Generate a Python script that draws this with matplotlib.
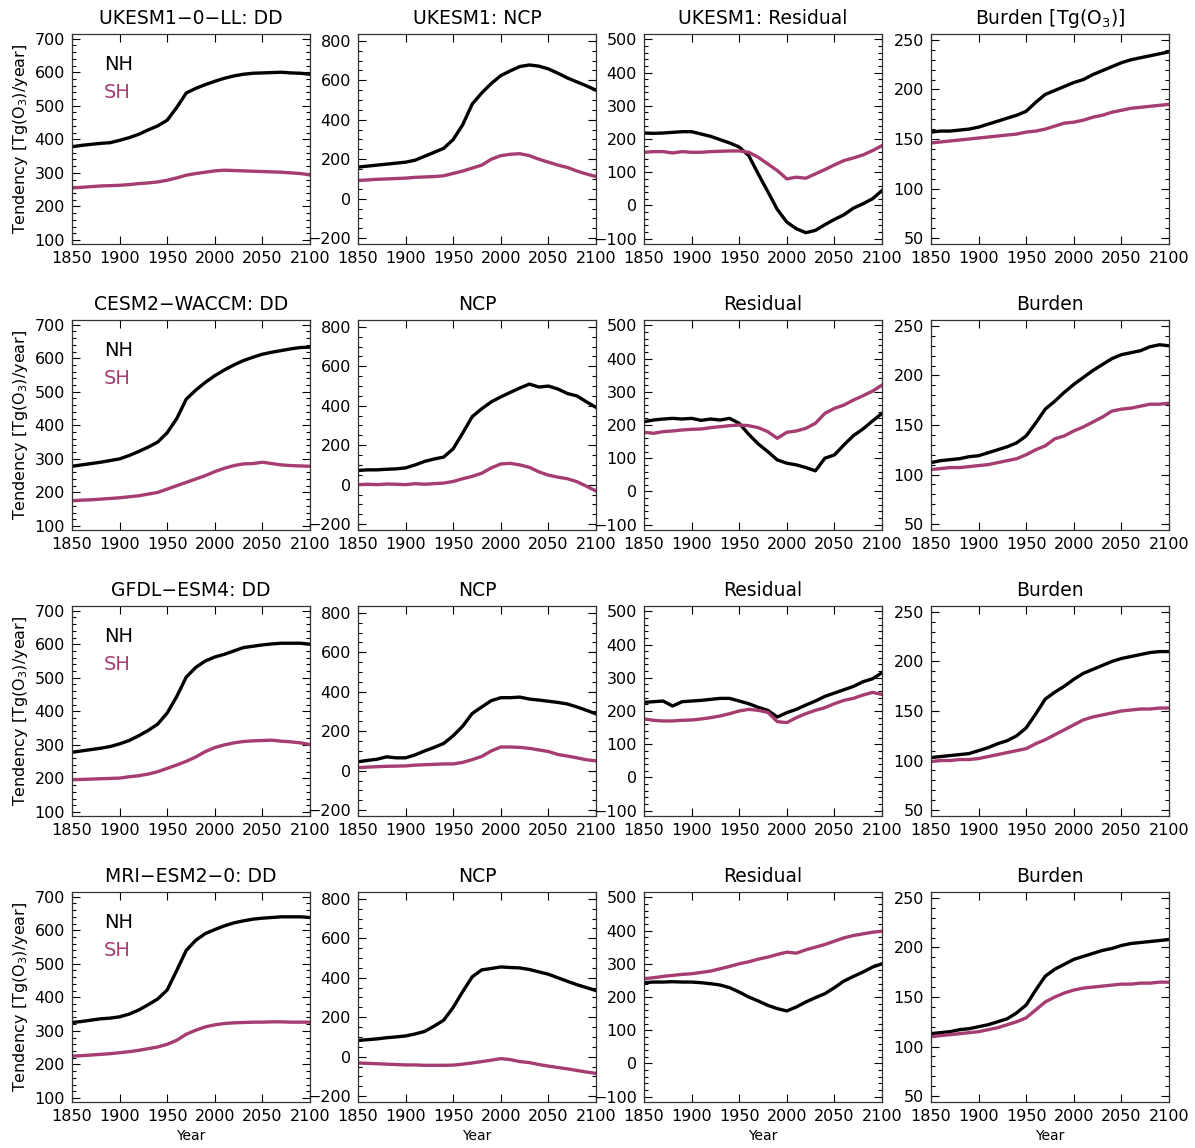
"""
Hemispheric ozone budget terms (DD, NCP, residual, burden), 1850-2100,
for four CMIP6 models. NH in black, SH in magenta.
"""

import matplotlib
matplotlib.use("Agg")
import matplotlib.pyplot as plt
from matplotlib.ticker import MultipleLocator, AutoMinorLocator

plt.rcParams["font.family"] = ["DejaVu Sans"]

# decadal values, 1850..2100
YEARS = [1850, 1860, 1870, 1880, 1890, 1900, 1910, 1920, 1930, 1940, 1950, 1960, 1970,
         1980, 1990, 2000, 2010, 2020, 2030, 2040, 2050, 2060, 2070, 2080, 2090, 2100]

MODELS = ["UKESM1-0-LL", "CESM2-WACCM", "GFDL-ESM4", "MRI-ESM2-0"]

# UKESM1-0-LL
ukesm_dd_nh = [378, 382, 385, 388, 390, 397, 405, 415, 428, 440, 457, 495, 538,
               552, 563, 573, 582, 589, 594, 597, 598, 599, 600, 598, 597, 594]
ukesm_dd_sh = [255, 257, 259, 261, 262, 263, 265, 268, 270, 273, 278, 285, 293,
               298, 302, 306, 308, 307, 306, 305, 304, 303, 302, 300, 298, 294]
ukesm_ncp_nh = [160, 165, 170, 175, 180, 185, 195, 215, 235, 255, 300, 375, 480,
                536, 584, 624, 648, 670, 678, 672, 658, 636, 612, 592, 572, 550]
ukesm_ncp_sh = [92, 95, 98, 100, 102, 104, 108, 110, 112, 116, 128, 140, 155,
                170, 200, 218, 225, 228, 218, 200, 185, 170, 158, 140, 125, 112]
ukesm_res_nh = [218, 217, 218, 220, 222, 222, 215, 208, 198, 188, 176, 150, 95,
                42, -12, -50, -70, -82, -75, -58, -42, -28, -8, 5, 20, 45]
ukesm_res_sh = [160, 162, 162, 158, 162, 160, 160, 162, 163, 164, 164, 160, 145,
                125, 105, 80, 85, 82, 95, 108, 122, 135, 143, 152, 165, 180]
ukesm_bur_nh = [157, 158, 158, 159, 160, 162, 165, 168, 171, 174, 178, 187, 195,
                199, 203, 207, 210, 215, 219, 223, 227, 230, 232, 234, 236, 238]
ukesm_bur_sh = [146, 147, 148, 149, 150, 151, 152, 153, 154, 155, 157, 158, 160,
                163, 166, 167, 169, 172, 174, 177, 179, 181, 182, 183, 184, 185]

# CESM2-WACCM
cesm_dd_nh = [278, 282, 286, 290, 295, 300, 310, 322, 335, 350, 378, 420, 478,
              505, 528, 548, 565, 580, 593, 603, 612, 618, 623, 628, 632, 633]
cesm_dd_sh = [175, 177, 178, 180, 182, 184, 187, 190, 195, 200, 210, 220, 230,
              240, 250, 262, 272, 280, 285, 286, 290, 286, 282, 280, 279, 278]
cesm_ncp_nh = [72, 75, 75, 78, 80, 85, 100, 118, 130, 140, 182, 262, 345,
               385, 420, 445, 468, 490, 510, 495, 500, 485, 462, 450, 420, 392]
cesm_ncp_sh = [0, 2, 0, 3, 2, 0, 5, 2, 5, 8, 16, 30, 42,
               58, 85, 105, 108, 100, 88, 65, 48, 38, 30, 15, -8, -32]
cesm_res_nh = [210, 215, 218, 220, 218, 220, 214, 218, 215, 220, 205, 172, 143,
               120, 95, 85, 80, 72, 62, 100, 110, 140, 168, 188, 212, 235]
cesm_res_sh = [178, 175, 180, 182, 185, 187, 188, 192, 195, 198, 200, 198, 192,
               180, 160, 178, 182, 190, 205, 235, 250, 260, 275, 288, 302, 320]
cesm_bur_nh = [112, 114, 115, 116, 118, 119, 122, 125, 128, 132, 139, 152, 166,
               174, 183, 191, 198, 205, 211, 217, 221, 223, 225, 229, 231, 230]
cesm_bur_sh = [105, 106, 107, 107, 108, 109, 110, 112, 114, 116, 120, 125, 129,
               136, 139, 144, 148, 153, 158, 164, 166, 167, 169, 171, 171, 172]

# GFDL-ESM4
gfdl_dd_nh = [278, 282, 286, 290, 295, 303, 313, 327, 343, 362, 395, 444, 502,
              531, 550, 562, 570, 580, 590, 594, 598, 601, 603, 603, 603, 600]
gfdl_dd_sh = [196, 197, 198, 199, 200, 201, 205, 208, 213, 220, 230, 240, 251,
              264, 280, 292, 300, 306, 310, 312, 313, 314, 311, 309, 306, 301]
gfdl_ncp_nh = [45, 52, 58, 70, 65, 65, 80, 100, 118, 138, 177, 226, 290,
               323, 355, 370, 370, 373, 363, 358, 352, 346, 338, 323, 306, 288]
gfdl_ncp_sh = [15, 18, 20, 22, 23, 24, 28, 30, 32, 34, 34, 42, 56,
               72, 100, 120, 120, 118, 113, 105, 97, 82, 74, 65, 55, 50]
gfdl_res_nh = [226, 228, 230, 215, 228, 230, 232, 235, 238, 238, 230, 222, 211,
               202, 182, 195, 205, 218, 230, 244, 254, 264, 274, 288, 297, 315]
gfdl_res_sh = [176, 172, 170, 170, 172, 173, 176, 180, 185, 192, 200, 205, 202,
               196, 168, 165, 180, 192, 202, 210, 222, 232, 238, 248, 256, 250]
gfdl_bur_nh = [103, 104, 105, 106, 107, 110, 113, 117, 120, 125, 133, 147, 162,
               169, 175, 182, 188, 192, 196, 200, 203, 205, 207, 209, 210, 210]
gfdl_bur_sh = [99, 100, 100, 101, 101, 102, 104, 106, 108, 110, 112, 117, 121,
               126, 131, 136, 141, 144, 146, 148, 150, 151, 152, 152, 153, 153]

# MRI-ESM2-0
mri_dd_nh = [325, 328, 332, 336, 338, 342, 350, 362, 378, 395, 422, 480, 540,
             570, 590, 602, 613, 622, 628, 633, 636, 638, 640, 640, 640, 638]
mri_dd_sh = [225, 226, 228, 230, 232, 235, 238, 242, 247, 252, 260, 272, 290,
             302, 312, 318, 322, 324, 325, 326, 326, 327, 327, 326, 326, 326]
mri_ncp_nh = [82, 86, 90, 96, 100, 105, 115, 128, 155, 185, 250, 330, 405,
              440, 447, 455, 452, 450, 442, 430, 418, 400, 382, 365, 350, 335]
mri_ncp_sh = [-32, -34, -36, -38, -40, -42, -42, -44, -44, -44, -43, -38, -32,
              -25, -18, -10, -15, -25, -30, -40, -48, -55, -62, -70, -78, -85]
mri_res_nh = [243, 245, 245, 246, 245, 245, 243, 240, 236, 228, 215, 200, 188,
              175, 165, 158, 170, 185, 198, 210, 228, 248, 262, 275, 290, 300]
mri_res_sh = [255, 258, 262, 265, 268, 270, 274, 278, 285, 292, 300, 306, 314,
              320, 328, 335, 332, 342, 350, 358, 368, 378, 385, 390, 395, 398]
mri_bur_nh = [113, 114, 115, 117, 118, 120, 122, 125, 128, 134, 142, 157, 171,
              178, 183, 188, 191, 194, 197, 199, 202, 204, 205, 206, 207, 208]
mri_bur_sh = [110, 111, 112, 113, 114, 115, 117, 119, 122, 125, 129, 137, 145,
              150, 154, 157, 159, 160, 161, 162, 163, 163, 164, 164, 165, 165]

SERIES = [
    [(ukesm_dd_nh, ukesm_dd_sh), (ukesm_ncp_nh, ukesm_ncp_sh),
     (ukesm_res_nh, ukesm_res_sh), (ukesm_bur_nh, ukesm_bur_sh)],
    [(cesm_dd_nh, cesm_dd_sh), (cesm_ncp_nh, cesm_ncp_sh),
     (cesm_res_nh, cesm_res_sh), (cesm_bur_nh, cesm_bur_sh)],
    [(gfdl_dd_nh, gfdl_dd_sh), (gfdl_ncp_nh, gfdl_ncp_sh),
     (gfdl_res_nh, gfdl_res_sh), (gfdl_bur_nh, gfdl_bur_sh)],
    [(mri_dd_nh, mri_dd_sh), (mri_ncp_nh, mri_ncp_sh),
     (mri_res_nh, mri_res_sh), (mri_bur_nh, mri_bur_sh)],
]

TITLES = [
    ["UKESM1\u22120\u2212LL: DD", "UKESM1: NCP", "UKESM1: Residual", r"Burden [Tg(O$_3$)]"],
    ["CESM2\u2212WACCM: DD", "NCP", "Residual", "Burden"],
    ["GFDL\u2212ESM4: DD", "NCP", "Residual", "Burden"],
    ["MRI\u2212ESM2\u22120: DD", "NCP", "Residual", "Burden"],
]

YLIMS = [(88, 714), (-230, 835), (-116, 516), (44, 256)]
YSTEPS = [100, 200, 100, 50]

NH_COLOR = "black"
SH_COLOR = "#a63d72"

W, H = 1195, 1148
fig = plt.figure(figsize=(W / 100, H / 100), dpi=100)

col_left = [72, 358, 644, 931]
row_top = [34, 320, 606, 892]
aw, ah = 238, 210

for r in range(4):
    for c in range(4):
        ax = fig.add_axes([col_left[c] / W, 1 - (row_top[r] + ah) / H, aw / W, ah / H])
        nh, sh = SERIES[r][c]
        ax.plot(YEARS, nh, color=NH_COLOR, lw=2.4)
        ax.plot(YEARS, sh, color=SH_COLOR, lw=2.4)
        ax.set_xlim(1850, 2100)
        ax.set_ylim(*YLIMS[c])
        ax.xaxis.set_major_locator(MultipleLocator(50))
        ax.yaxis.set_major_locator(MultipleLocator(YSTEPS[c]))
        ax.yaxis.set_minor_locator(AutoMinorLocator())
        ax.tick_params(which="both", direction="in", top=True, right=True,
                       labelsize=11.5, width=0.8)
        ax.tick_params(which="major", length=6, pad=5)
        ax.tick_params(which="minor", length=3)
        for s in ax.spines.values():
            s.set_linewidth(0.9)
            s.set_color("#333333")
        ax.set_title(TITLES[r][c], fontsize=13.5, pad=7)
        if c == 0:
            ax.set_ylabel(r"Tendency [Tg(O$_3$)/year]", fontsize=11.5, labelpad=3)
            ax.text(0.135, 0.855, "NH", transform=ax.transAxes, color=NH_COLOR,
                    fontsize=14, va="center")
            ax.text(0.135, 0.72, "SH", transform=ax.transAxes, color=SH_COLOR,
                    fontsize=14, va="center")
        if r == 3:
            ax.set_xlabel("Year", fontsize=10, labelpad=4)

plt.savefig("out.png", dpi=100)
plt.close()
